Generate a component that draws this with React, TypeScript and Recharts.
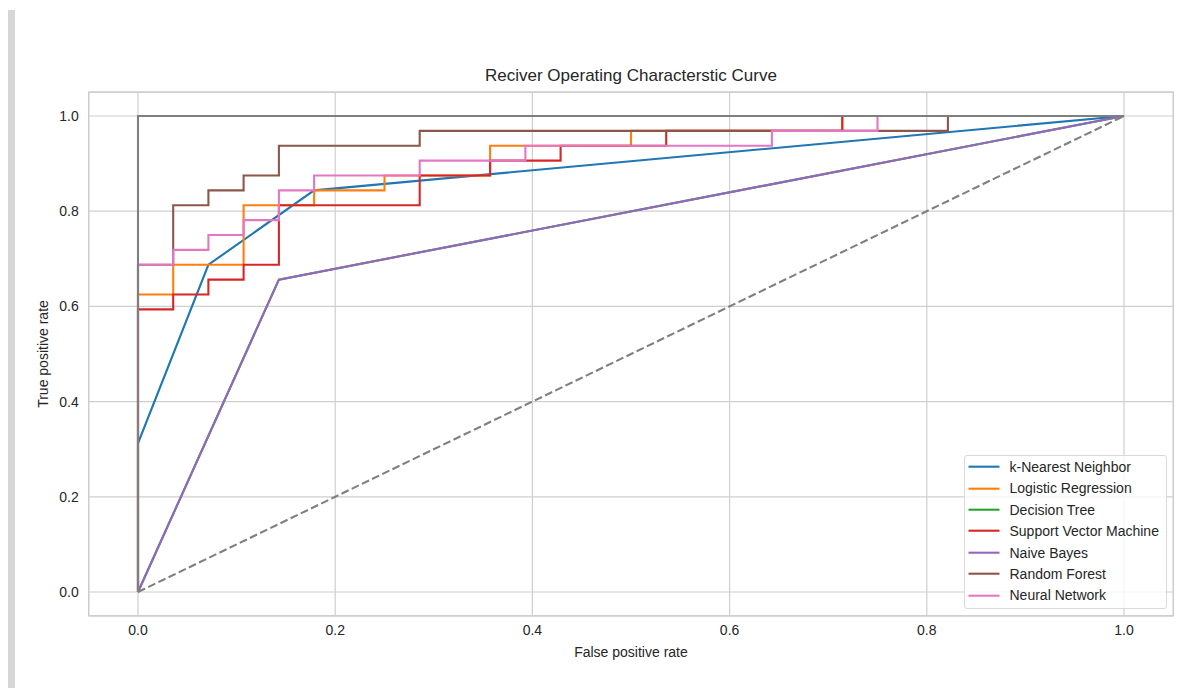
import { LineChart, Line, XAxis, YAxis, CartesianGrid, ReferenceArea } from "recharts"

// ROC points (28 negatives / 32 positives in the test set)
const knnFpr = [0, 0, 0.0714, 0.1786, 1]
const knnTpr = [0, 0.3125, 0.6875, 0.8438, 1]

const lrFpr = [0, 0, 0.0357, 0.0357, 0.1071, 0.1071, 0.1786, 0.1786, 0.25, 0.25, 0.3571, 0.3571, 0.5, 0.5, 0.7143, 0.7143, 1]
const lrTpr = [0, 0.625, 0.625, 0.6875, 0.6875, 0.8125, 0.8125, 0.8438, 0.8438, 0.875, 0.875, 0.9375, 0.9375, 0.9688, 0.9688, 1, 1]

const dtFpr = [0, 0.1429, 1]
const dtTpr = [0, 0.6563, 1]

const svmFpr = [0, 0, 0.0357, 0.0357, 0.0714, 0.0714, 0.1071, 0.1071, 0.1429, 0.1429, 0.2857, 0.2857, 0.3571, 0.3571, 0.4286, 0.4286, 0.5357, 0.5357, 0.7143, 0.7143, 1]
const svmTpr = [0, 0.5938, 0.5938, 0.625, 0.625, 0.6563, 0.6563, 0.6875, 0.6875, 0.8125, 0.8125, 0.875, 0.875, 0.9063, 0.9063, 0.9375, 0.9375, 0.9688, 0.9688, 1, 1]

const nbFpr = [0, 0.1429, 1]
const nbTpr = [0, 0.6563, 1]

const rfFpr = [0, 0, 0.0357, 0.0357, 0.0714, 0.0714, 0.1071, 0.1071, 0.1429, 0.1429, 0.2857, 0.2857, 0.8214, 0.8214, 1]
const rfTpr = [0, 0.6875, 0.6875, 0.8125, 0.8125, 0.8438, 0.8438, 0.875, 0.875, 0.9375, 0.9375, 0.9688, 0.9688, 1, 1]

const nnFpr = [0, 0, 0.0357, 0.0357, 0.0714, 0.0714, 0.1071, 0.1071, 0.1429, 0.1429, 0.1786, 0.1786, 0.2857, 0.2857, 0.3929, 0.3929, 0.6429, 0.6429, 0.75, 0.75, 1]
const nnTpr = [0, 0.6875, 0.6875, 0.7188, 0.7188, 0.75, 0.75, 0.7813, 0.7813, 0.8438, 0.8438, 0.875, 0.875, 0.9063, 0.9063, 0.9375, 0.9375, 0.9688, 0.9688, 1, 1]

const perfectFpr = [0, 0, 1]
const perfectTpr = [0, 1, 1]

const chanceFpr = [0, 1]
const chanceTpr = [0, 1]

const ticks = [0, 0.2, 0.4, 0.6, 0.8, 1.0]

const toPoints = (fpr: number[], tpr: number[]) => fpr.map((x, i) => ({ x, y: tpr[i] }))

const models = [
  { name: "k-Nearest Neighbor", color: "#1f77b4", data: toPoints(knnFpr, knnTpr) },
  { name: "Logistic Regression", color: "#ff7f0e", data: toPoints(lrFpr, lrTpr) },
  { name: "Decision Tree", color: "#2ca02c", data: toPoints(dtFpr, dtTpr) },
  { name: "Support Vector Machine", color: "#d62728", data: toPoints(svmFpr, svmTpr) },
  { name: "Naive Bayes", color: "#9467bd", data: toPoints(nbFpr, nbTpr) },
  { name: "Random Forest", color: "#8c564b", data: toPoints(rfFpr, rfTpr) },
  { name: "Neural Network", color: "#e377c2", data: toPoints(nnFpr, nnTpr) },
]

const FONT = "'Liberation Sans', Arial, Helvetica, sans-serif"
const TEXT = "#262626"

export default function App() {
  return (
    <div
      style={{
        position: "absolute",
        left: 0,
        top: 0,
        width: 1190,
        height: 688,
        background: "#ffffff",
        fontFamily: FONT,
        color: TEXT,
        overflow: "hidden",
      }}
    >
      <div style={{ position: "absolute", left: 8, top: 10, width: 7, height: 690, background: "#d6d6d6" }} />

      <LineChart width={1190} height={688} margin={{ top: 92.2, right: 16.7, bottom: 42.2, left: 28.7 }}>
        <CartesianGrid stroke="#cfcfcf" strokeWidth={1.2} />
        <ReferenceArea x1={-0.05} x2={1.05} y1={-0.05} y2={1.05} fill="none" stroke="#cccccc" strokeWidth={1.2} />
        <XAxis
          type="number"
          dataKey="x"
          domain={[-0.05, 1.05]}
          ticks={ticks}
          allowDataOverflow
          tickFormatter={(v: number) => v.toFixed(1)}
          axisLine={false}
          tickLine={false}
          tickSize={0}
          tickMargin={9}
          height={30}
          tick={{ fill: TEXT, fontSize: 14, fontFamily: FONT }}
        />
        <YAxis
          type="number"
          dataKey="y"
          domain={[-0.05, 1.05]}
          ticks={ticks}
          allowDataOverflow
          tickFormatter={(v: number) => v.toFixed(1)}
          axisLine={false}
          tickLine={false}
          tickSize={0}
          tickMargin={10}
          width={60}
          tick={{ fill: TEXT, fontSize: 14, fontFamily: FONT }}
        />
        {models.map((m) => (
          <Line
            key={m.name}
            data={m.data}
            dataKey="y"
            type="linear"
            stroke={m.color}
            strokeWidth={2.1}
            dot={false}
            activeDot={false}
            isAnimationActive={false}
          />
        ))}
        <Line
          data={toPoints(perfectFpr, perfectTpr)}
          dataKey="y"
          type="linear"
          stroke="#7f7f7f"
          strokeWidth={2.1}
          dot={false}
          activeDot={false}
          isAnimationActive={false}
        />
        <Line
          data={toPoints(chanceFpr, chanceTpr)}
          dataKey="y"
          type="linear"
          stroke="#808080"
          strokeWidth={2.1}
          strokeDasharray="7.9 3.4"
          dot={false}
          activeDot={false}
          isAnimationActive={false}
        />
      </LineChart>

      <div
        style={{
          position: "absolute",
          left: 88.7,
          width: 1084.6,
          top: 66,
          lineHeight: "20px",
          fontSize: 17,
          textAlign: "center",
        }}
      >
        Reciver Operating Characterstic Curve
      </div>
      <div
        style={{
          position: "absolute",
          left: 88.7,
          width: 1084.6,
          top: 642,
          lineHeight: "20px",
          fontSize: 14,
          textAlign: "center",
        }}
      >
        False positive rate
      </div>
      <div
        style={{
          position: "absolute",
          left: 43,
          top: 354,
          fontSize: 14,
          lineHeight: "20px",
          whiteSpace: "nowrap",
          transform: "translate(-50%, -50%) rotate(-90deg)",
        }}
      >
        True positive rate
      </div>

      <div
        style={{
          position: "absolute",
          left: 964,
          top: 455,
          width: 201,
          height: 152,
          border: "1px solid #d9d9d9",
          borderRadius: 3,
          background: "rgba(255,255,255,0.8)",
          paddingTop: 0.3,
          boxSizing: "content-box",
        }}
      >
        {models.map((m) => (
          <div key={m.name} style={{ display: "flex", alignItems: "center", height: 21.4, fontSize: 14 }}>
            <svg width={40} height={21.4} style={{ flex: "none" }}>
              <line x1={3.5} x2={34.5} y1={10.7} y2={10.7} stroke={m.color} strokeWidth={2.1} />
            </svg>
            <span style={{ marginLeft: 4.5, whiteSpace: "nowrap" }}>{m.name}</span>
          </div>
        ))}
      </div>
    </div>
  )
}
